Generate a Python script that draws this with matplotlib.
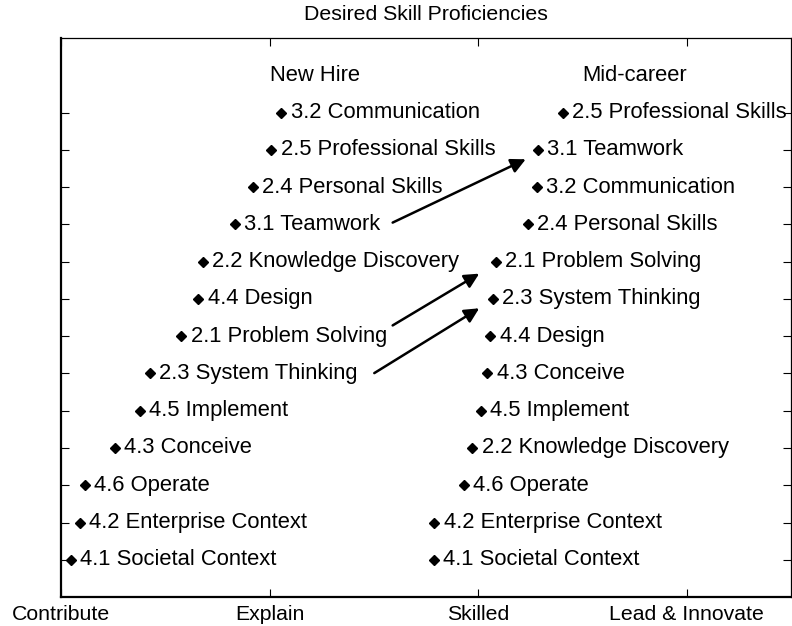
import matplotlib
matplotlib.use("Agg")
import matplotlib.pyplot as plt

plt.rcParams['font.family'] = ['Liberation Sans', 'DejaVu Sans']

# Proficiency scale
level_labels = ["Contribute", "Explain", "Skilled", "Lead & Innovate"]
level_ticks = [0, 1, 2, 3]

# New Hire column (row 1 = bottom)
new_hire_skills = ["4.1 Societal Context", "4.2 Enterprise Context", "4.6 Operate",
                   "4.3 Conceive", "4.5 Implement", "2.3 System Thinking",
                   "2.1 Problem Solving", "4.4 Design", "2.2 Knowledge Discovery",
                   "3.1 Teamwork", "2.4 Personal Skills", "2.5 Professional Skills",
                   "3.2 Communication"]
new_hire_values = [0.048, 0.091, 0.115, 0.258, 0.378, 0.426, 0.577, 0.659,
                   0.681, 0.833, 0.92, 1.008, 1.056]

# Mid-career column (row 1 = bottom)
mid_skills = ["4.1 Societal Context", "4.2 Enterprise Context", "4.6 Operate",
              "2.2 Knowledge Discovery", "4.5 Implement", "4.3 Conceive",
              "4.4 Design", "2.3 System Thinking", "2.1 Problem Solving",
              "2.4 Personal Skills", "3.2 Communication", "3.1 Teamwork",
              "2.5 Professional Skills"]
mid_values = [1.786, 1.79, 1.93, 1.971, 2.014, 2.043, 2.059, 2.07, 2.086,
              2.238, 2.281, 2.286, 2.405]

rows = list(range(1, 14))

# Arrows: (start x, start y) -> (end x, end y)
arrow_starts = [(1.59, 10.05), (1.59, 7.29), (1.502, 6.01)]
arrow_ends = [(2.228, 11.75), (2.005, 8.68), (2.005, 7.75)]

fig = plt.figure(figsize=(7.92, 6.26), dpi=100)
ax = fig.add_axes([0.077, 0.0463, 0.9218, 0.8927])

ax.plot(new_hire_values, rows, linestyle='none', marker='D', markersize=5.2,
        color='black')
ax.plot(mid_values, rows, linestyle='none', marker='D', markersize=5.2,
        color='black')

fs = 15.8
for x, y, s in zip(new_hire_values, rows, new_hire_skills):
    ax.text(x + 0.045, y, s, fontsize=fs, va='center', ha='left')
for x, y, s in zip(mid_values, rows, mid_skills):
    ax.text(x + 0.045, y, s, fontsize=fs, va='center', ha='left')

ax.text(1.0, 14, "New Hire", fontsize=fs, va='center', ha='left')
ax.text(2.5, 14, "Mid-career", fontsize=fs, va='center', ha='left')

for (sx, sy), (ex, ey) in zip(arrow_starts, arrow_ends):
    ax.annotate("", xy=(ex, ey), xytext=(sx, sy),
                arrowprops=dict(arrowstyle='-|>', mutation_scale=22,
                                lw=1.8, color='black', shrinkA=0, shrinkB=0))

ax.set_xlim(0, 3.5)
ax.set_ylim(0, 15)
ax.set_xticks(level_ticks)
ax.set_xticklabels(level_labels, fontsize=15.3)
ax.set_yticks(rows)
ax.set_yticklabels([])
ax.tick_params(axis='both', direction='in', length=6, width=0.8,
               top=True, right=True, pad=6)
ax.set_title("Desired Skill Proficiencies", fontsize=15.3, pad=13)

for side in ['left', 'bottom']:
    ax.spines[side].set_linewidth(1.6)
for side in ['top', 'right']:
    ax.spines[side].set_linewidth(0.9)

fig.savefig("out.png", dpi=100)
